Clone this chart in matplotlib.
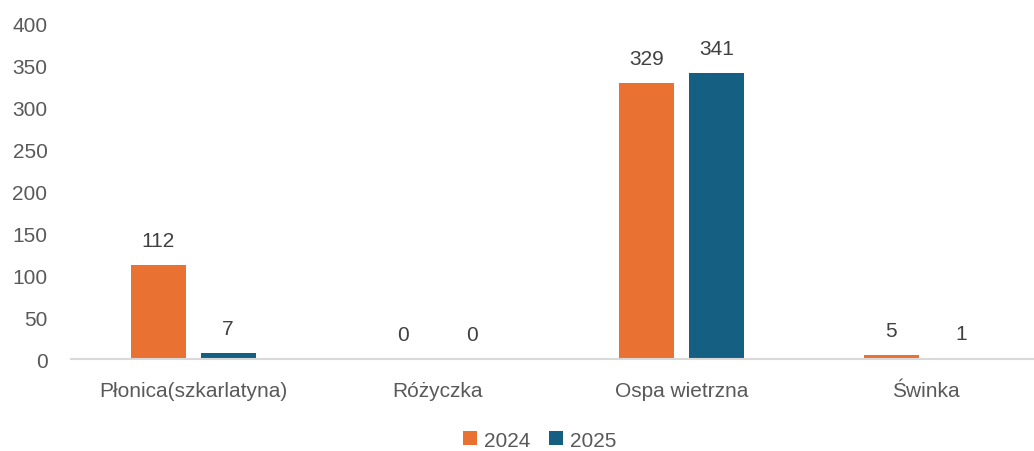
import matplotlib
matplotlib.use("Agg")
import matplotlib.pyplot as plt
import numpy as np

categories = ["Płonica(szkarlatyna)", "Różyczka", "Ospa wietrzna", "Świnka"]
series_names = ["2024", "2025"]
values_2024 = [112, 0, 329, 5]
values_2025 = [7, 0, 341, 1]
y_ticks = [0, 50, 100, 150, 200, 250, 300, 350, 400]

plt.rcParams['font.family'] = ['Liberation Sans', 'DejaVu Sans']
text_color = "#595959"
colors = ["#E97132", "#156082"]
fs = 15

fig = plt.figure(figsize=(10.34, 4.52), dpi=100)
ax = fig.add_axes([0.0687, 0.2035, 0.945, 0.7412])

x = np.arange(len(categories))
w = 0.225
off = 0.143
b1 = ax.bar(x - off, values_2024, w, color=colors[0], label=series_names[0])
b2 = ax.bar(x + off, values_2025, w, color=colors[1], label=series_names[1])

for bars, vals in ((b1, values_2024), (b2, values_2025)):
    for r, v in zip(bars, vals):
        ax.annotate(str(v), (r.get_x() + r.get_width() / 2, v),
                    xytext=(0, 11), textcoords="offset points",
                    ha="center", va="bottom", fontsize=fs, color="#404040")

ax.set_xlim(-0.5, len(categories) - 0.5)
ax.set_ylim(0, 400)
ax.set_yticks(y_ticks)
ax.set_xticks(x)
ax.set_xticklabels(categories)
ax.tick_params(axis="both", length=0, labelsize=fs, colors=text_color)
ax.tick_params(axis="x", pad=16)
ax.tick_params(axis="y", pad=17)
for s in ["top", "right", "left"]:
    ax.spines[s].set_visible(False)
ax.spines["bottom"].set_color("#D9D9D9")
ax.spines["bottom"].set_linewidth(1.5)

leg = fig.legend(handles=[b1, b2], labels=series_names, loc="center",
                 bbox_to_anchor=(0.522, 0.024), ncol=2, frameon=False,
                 fontsize=fs, handlelength=0.67, handleheight=0.67,
                 handletextpad=0.34, columnspacing=0.9,
                 borderaxespad=0, borderpad=0)
for t in leg.get_texts():
    t.set_color(text_color)

fig.savefig("out.png", dpi=100)
